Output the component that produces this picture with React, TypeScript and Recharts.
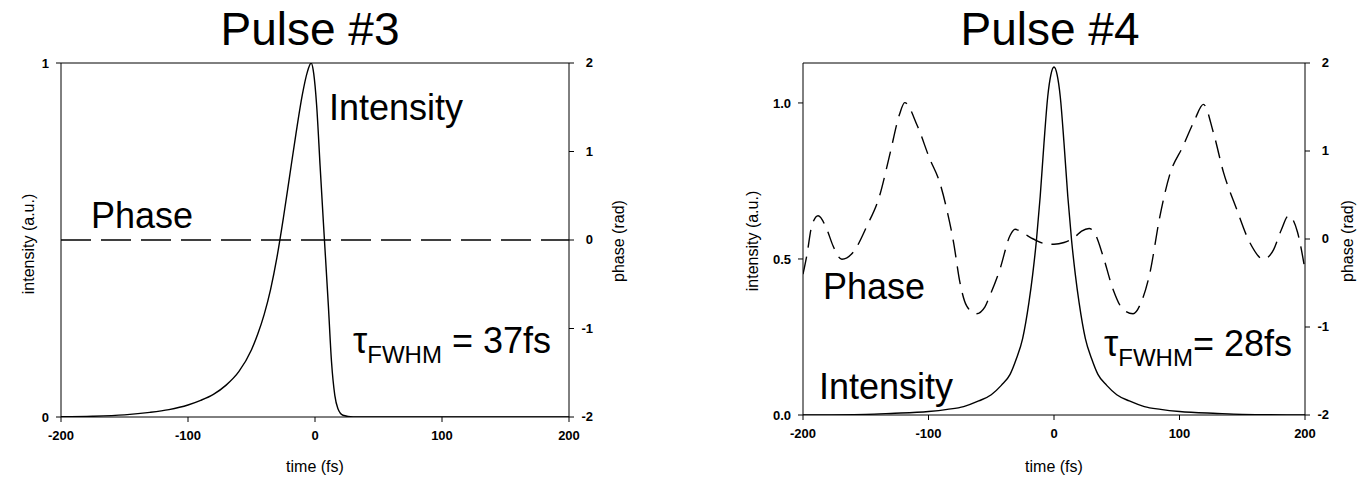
import { LineChart, Line, XAxis, YAxis, ReferenceLine } from 'recharts';

const FONT = '"Liberation Sans", Arial, sans-serif';

// time axis (fs) shared by both panels
const TIME_TICKS = [-200, -100, 0, 100, 200];
const PHASE_TICKS = [-2, -1, 0, 1, 2];

// Pulse #3: asymmetric pulse, flat phase
const P3_TIME = [-200, -175, -150, -130, -115, -100, -90, -80, -70, -60, -50, -45, -40, -35, -30, -25, -20, -15, -10, -6, -3, -1, 1.3, 4, 6.6, 10.5, 13, 15.6, 18, 22, 30, 60, 200];
const P3_INTENSITY = [0.0005, 0.002, 0.006, 0.013, 0.021, 0.034, 0.047, 0.064, 0.09, 0.128, 0.19, 0.235, 0.29, 0.36, 0.45, 0.56, 0.68, 0.8, 0.91, 0.975, 1.0, 0.97, 0.88, 0.71, 0.55, 0.316, 0.156, 0.061, 0.024, 0.005, 0, 0, 0];
const P3_PHASE_TIME = [-200, 200];
const P3_PHASE = [0, 0];
const P3_INT_TICKS = [0, 1];

// Pulse #4: symmetric pulse, oscillating phase
const P4_TIME = [-200, -150, -130, -100, -85, -72, -60, -50, -42, -35, -30, -25, -20, -17, -14, -11, -8, -5, -2.5, 0, 2.5, 5, 8, 11, 14, 17, 20, 25, 30, 35, 42, 50, 60, 72, 85, 100, 130, 150, 200];
const P4_INTENSITY = [0, 0.002, 0.005, 0.011, 0.018, 0.027, 0.045, 0.065, 0.095, 0.13, 0.18, 0.245, 0.36, 0.45, 0.56, 0.7, 0.87, 1.02, 1.09, 1.115, 1.09, 1.02, 0.87, 0.7, 0.56, 0.45, 0.36, 0.245, 0.18, 0.13, 0.095, 0.065, 0.045, 0.027, 0.018, 0.011, 0.005, 0.002, 0];
const P4_PHASE_TIME = [-200, -197, -193, -188, -181, -176, -169, -160, -149, -139, -131, -123, -119, -109, -99, -91, -85.5, -80, -75, -69.6, -62, -55, -51, -43, -35, -31, -25, -16.5, -8, 0, 8, 16.5, 22, 28, 33, 39, 47, 55, 63, 70, 76.5, 84, 92, 103, 112, 119, 127, 135, 145.5, 156, 167, 175, 181, 187, 194, 200];
const P4_PHASE = [-0.4, -0.19, 0.15, 0.265, 0.11, -0.08, -0.23, -0.15, 0.15, 0.49, 0.95, 1.42, 1.55, 1.29, 0.91, 0.64, 0.34, -0.04, -0.49, -0.76, -0.85, -0.77, -0.64, -0.34, 0.04, 0.11, 0.07, 0, -0.05, -0.06, -0.04, 0.02, 0.09, 0.12, 0.05, -0.19, -0.57, -0.8, -0.85, -0.7, -0.38, 0.23, 0.72, 1.06, 1.35, 1.53, 1.21, 0.76, 0.34, -0.04, -0.23, -0.12, 0.1, 0.265, 0.08, -0.35];
const P4_INT_TICKS = [0, 0.5, 1.0];

const toRows = (ts: number[], vs: number[]) => ts.map((t, i) => ({ t, v: vs[i] }));

const tickStyle = { fontSize: 13, fontWeight: 'bold' as const, fill: '#000', fontFamily: FONT };

function RightTick({ x, y, payload }: any) {
  return (
    <text x={x + 12} y={y} dy={4} textAnchor="end" {...tickStyle}>
      {payload.value}
    </text>
  );
}

interface PanelProps {
  left: number;
  width: number;
  margin: { top: number; right: number; bottom: number; left: number };
  intensity: { t: number; v: number }[];
  phase: { t: number; v: number }[];
  intMax: number;
  intTicks: number[];
  intFormat: (v: number) => string;
  dash: string;
}

function Panel({ left, width, margin, intensity, phase, intMax, intTicks, intFormat, dash }: PanelProps) {
  return (
    <div style={{ position: 'absolute', left, top: 0 }}>
      <LineChart width={width} height={479} margin={margin}>
        <XAxis
          dataKey="t"
          type="number"
          domain={[-200, 200]}
          ticks={TIME_TICKS}
          allowDataOverflow
          stroke="#000"
          tickSize={5}
          tickMargin={9}
          tick={tickStyle}
          height={30}
        />
        <YAxis
          yAxisId="int"
          domain={[0, intMax]}
          ticks={intTicks}
          allowDataOverflow
          stroke="#000"
          tickSize={5}
          tickMargin={7}
          tick={tickStyle}
          tickFormatter={intFormat}
          width={40}
        />
        <YAxis
          yAxisId="ph"
          orientation="right"
          domain={[-2, 2]}
          ticks={PHASE_TICKS}
          allowDataOverflow
          stroke="#000"
          tickSize={5}
          tickMargin={7}
          tick={<RightTick />}
          width={40}
        />
        <ReferenceLine yAxisId="ph" y={2} stroke="#000" strokeWidth={1} />
        <Line
          yAxisId="ph"
          data={phase}
          dataKey="v"
          type="monotone"
          stroke="#000"
          strokeWidth={1.4}
          strokeDasharray={dash}
          dot={false}
          isAnimationActive={false}
        />
        <Line
          yAxisId="int"
          data={intensity}
          dataKey="v"
          type="monotone"
          stroke="#000"
          strokeWidth={1.4}
          dot={false}
          isAnimationActive={false}
        />
      </LineChart>
    </div>
  );
}

function VLabel({ x, y, text }: { x: number; y: number; text: string }) {
  return (
    <text
      x={x}
      y={y}
      transform={`rotate(-90 ${x} ${y})`}
      textAnchor="middle"
      dominantBaseline="central"
      fontSize={16}
    >
      {text}
    </text>
  );
}

export default function App() {
  return (
    <div style={{ position: 'absolute', left: 0, top: 0, width: 1361, height: 479, background: '#fff', overflow: 'hidden' }}>
      <Panel
        left={0}
        width={680}
        margin={{ top: 63, right: 71, bottom: 32, left: 21 }}
        intensity={toRows(P3_TIME, P3_INTENSITY)}
        phase={toRows(P3_PHASE_TIME, P3_PHASE)}
        intMax={1}
        intTicks={P3_INT_TICKS}
        intFormat={(v) => String(v)}
        dash="30 10"
      />
      <Panel
        left={680}
        width={681}
        margin={{ top: 63, right: 16, bottom: 34, left: 83 }}
        intensity={toRows(P4_TIME, P4_INTENSITY)}
        phase={toRows(P4_PHASE_TIME, P4_PHASE)}
        intMax={1.128}
        intTicks={P4_INT_TICKS}
        intFormat={(v) => v.toFixed(1)}
        dash="18 9"
      />
      <svg
        width={1361}
        height={479}
        style={{ position: 'absolute', left: 0, top: 0, pointerEvents: 'none' }}
        fontFamily={FONT}
        fill="#000"
      >
        <text x={310} y={45} fontSize={46} textAnchor="middle">Pulse #3</text>
        <text x={1050} y={45} fontSize={46} textAnchor="middle">Pulse #4</text>

        <text x={329} y={120} fontSize={36}>Intensity</text>
        <text x={91} y={228} fontSize={36}>Phase</text>
        <text x={353} y={353} fontSize={36}>
          τ<tspan fontSize={24} dy={10}>FWHM</tspan>
          <tspan dy={-10}> = 37fs</tspan>
        </text>

        <text x={823} y={299} fontSize={36}>Phase</text>
        <text x={819} y={399} fontSize={36}>Intensity</text>
        <text x={1104} y={356} fontSize={36}>
          τ<tspan fontSize={24} dy={10}>FWHM</tspan>
          <tspan dy={-10}>= 28fs</tspan>
        </text>

        <VLabel x={28} y={244} text="intensity (a.u.)" />
        <VLabel x={618} y={241} text="phase (rad)" />
        <VLabel x={752} y={241} text="intensity (a.u.)" />
        <VLabel x={1347} y={241} text="phase (rad)" />

        <text x={315} y={466} fontSize={16} textAnchor="middle" dominantBaseline="central">time (fs)</text>
        <text x={1054} y={466} fontSize={16} textAnchor="middle" dominantBaseline="central">time (fs)</text>
      </svg>
    </div>
  );
}
